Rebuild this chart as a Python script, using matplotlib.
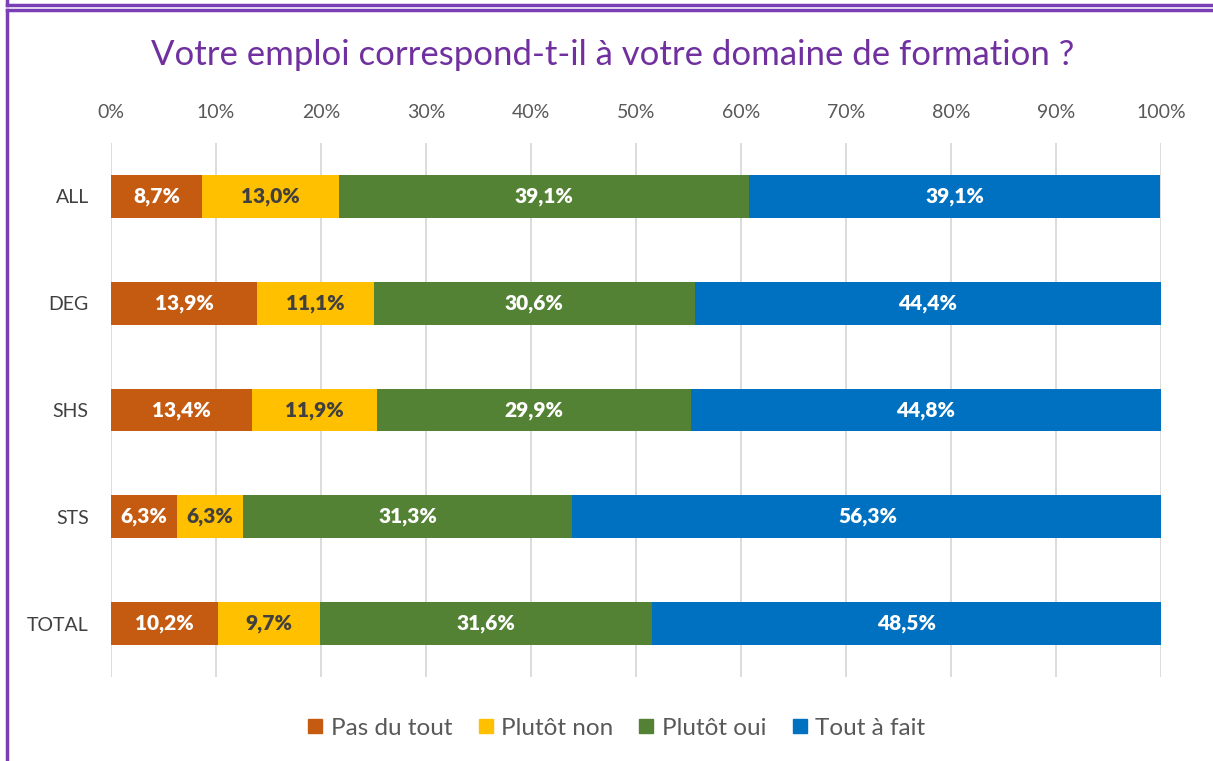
import matplotlib.pyplot as plt
from matplotlib.lines import Line2D
import numpy as np

categories = ["ALL", "DEG", "SHS", "STS", "TOTAL"]
series_names = ["Pas du tout", "Plutôt non", "Plutôt oui", "Tout à fait"]
pas_du_tout = [8.7, 13.9, 13.4, 6.3, 10.2]
plutot_non = [13.0, 11.1, 11.9, 6.3, 9.7]
plutot_oui = [39.1, 30.6, 29.9, 31.3, 31.6]
tout_a_fait = [39.1, 44.4, 44.8, 56.3, 48.5]
tick_labels = [f"{v}%" for v in range(0, 101, 10)]

colors = ["#c55a11", "#ffc000", "#548235", "#0070c0"]
label_colors = ["white", "#404040", "white", "white"]

plt.rcParams['font.family'] = ['Lato', 'DejaVu Sans']

fig = plt.figure(figsize=(12.13, 7.61), dpi=100)
ax = fig.add_axes([111 / 1213, 1 - 677 / 761, 1050 / 1213, 534 / 761])

y = np.arange(len(categories))
left = np.zeros(len(categories))
for name, vals, col, lcol in zip(series_names,
                                 [pas_du_tout, plutot_non, plutot_oui, tout_a_fait],
                                 colors, label_colors):
    vals = np.array(vals)
    ax.barh(y, vals, left=left, height=0.4, color=col, label=name, zorder=3)
    for yi, l, v in zip(y, left, vals):
        ax.text(l + v / 2, yi, f"{v:.1f}%".replace(".", ","), ha="center", va="center",
                color=lcol, fontsize=15, fontweight="heavy", zorder=4)
    left += vals

ax.set_xlim(0, 100)
ax.set_ylim(len(categories) - 0.5, -0.5)
ax.set_yticks(y)
ax.set_yticklabels(categories, fontsize=14, color="#404040")
ax.set_xticks(range(0, 101, 10))
ax.set_xticklabels(tick_labels, fontsize=14, color="#595959")
ax.xaxis.tick_top()
ax.tick_params(axis="both", length=0)
ax.tick_params(axis="x", pad=16)
ax.tick_params(axis="y", pad=16)
ax.grid(axis="x", color="#d9d9d9", linewidth=1.3, zorder=0)
for s in ax.spines.values():
    s.set_visible(False)

fig.text(0.505, 1 - 55 / 761, "Votre emploi correspond-t-il à votre domaine de formation ?",
         ha="center", va="center", fontsize=25, color="#7030a0")

handles = [Line2D([], [], marker="s", linestyle="none", markersize=10.5,
                  markerfacecolor=c, markeredgecolor=c) for c in colors]
fig.legend(handles, series_names, loc="center", bbox_to_anchor=(0.508, 1 - 728 / 761),
           ncol=4, frameon=False, fontsize=17.5, labelcolor="#595959",
           handlelength=0.7, handletextpad=0.3, columnspacing=1.0)

# purple frame lines
pc = "#7b3fb5"
fig.add_artist(Line2D([7 / 1213, 1], [1 - 5 / 761, 1 - 5 / 761], color=pc, lw=2.5))
fig.add_artist(Line2D([7 / 1213, 7 / 1213], [1 - 5 / 761, 1], color=pc, lw=2.5))
fig.add_artist(Line2D([7 / 1213, 1], [1 - 10 / 761, 1 - 10 / 761], color=pc, lw=2.5))
fig.add_artist(Line2D([7 / 1213, 7 / 1213], [0, 1 - 10 / 761], color=pc, lw=2.5))

fig.savefig("out.png", dpi=100)
